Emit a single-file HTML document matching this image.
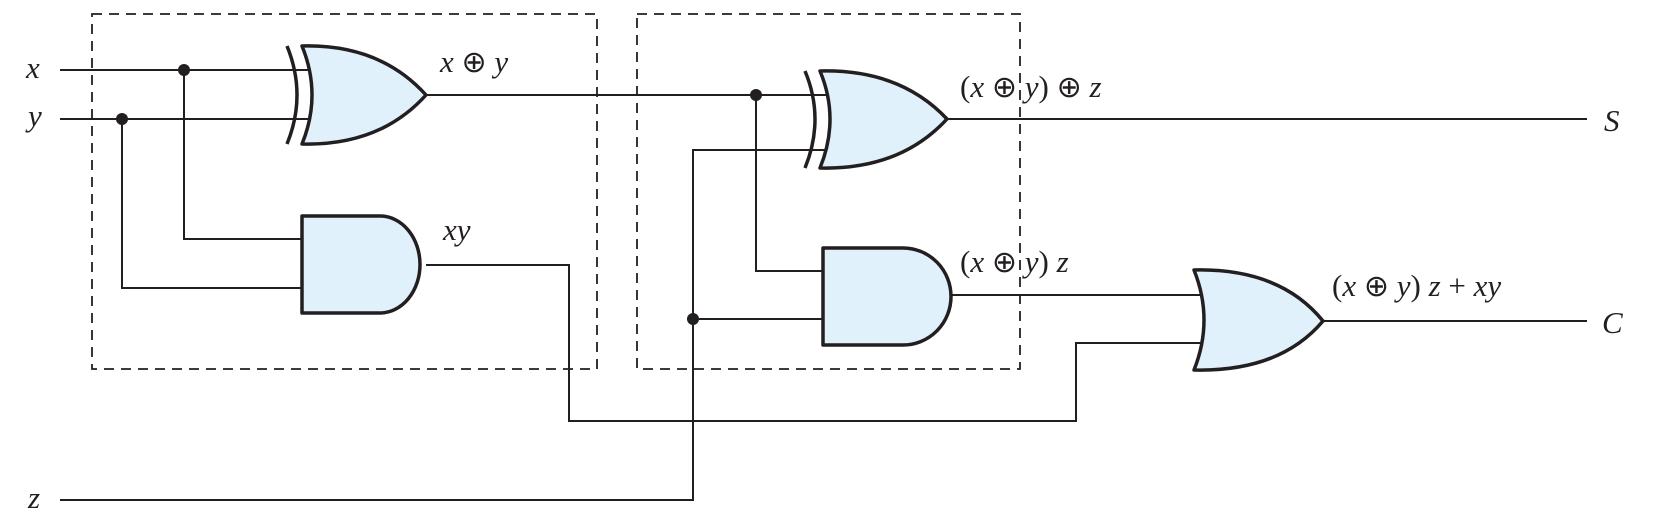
<!DOCTYPE html>
<html><head><meta charset="utf-8"><style>
html,body{margin:0;padding:0;background:#fff;}
svg{display:block;}
text{font-family:"Liberation Serif",serif;font-style:italic;font-size:31px;fill:#231f20;}
tspan.o{font-style:normal;font-family:"DejaVu Sans",sans-serif;font-size:30px;}
tspan.n{font-style:normal;}
.w{stroke:#231f20;stroke-width:2;fill:none;}
.g{stroke:#231f20;stroke-width:3.5;fill:#e0f1fb;stroke-linejoin:round;}
.d{stroke:#231f20;stroke-width:1.8;fill:none;stroke-dasharray:10,7;}
</style></head><body>
<svg width="1654" height="520" viewBox="0 0 1654 520">
<rect class="d" x="92" y="14" width="505" height="355"/>
<rect class="d" x="637" y="14" width="383" height="355"/>
<g>
<path class="w" d="M60,70H312 M60,119H312"/>
<path class="w" d="M184,70V239H302 M122,119V288H302"/>
<path class="w" d="M426,95H830"/>
<path class="w" d="M756,95V271H823"/>
<path class="w" d="M60,500H693V150H830 M693,319H823"/>
<path class="w" d="M426,265H569V421H1076V343H1203"/>
<path class="w" d="M951,295H1203"/>
<path class="w" d="M947,119H1587 M1323,321H1587"/>
</g>
<circle cx="184" cy="70" r="6" fill="#231f20"/>
<circle cx="122" cy="119" r="6" fill="#231f20"/>
<circle cx="756" cy="95" r="6" fill="#231f20"/>
<circle cx="693" cy="319" r="6" fill="#231f20"/>
<g>
<path class="g" d="M302,46 Q380,44 426,95 Q380,146 302,144 Q322,95 302,46Z"/>
<path class="w" style="stroke-width:3.5" d="M287,46 Q307,95 287,144"/>
</g>
<path class="g" d="M302,216H380 A40,48.5 0 0 1 380,313H302Z"/>
<g>
<path class="g" d="M820,71 Q900,69 947,119 Q900,170 820,168 Q840,119 820,71Z"/>
<path class="w" style="stroke-width:3.5" d="M805,71 Q825,119 805,168"/>
</g>
<path class="g" d="M823,248H903 A48,48.5 0 0 1 903,345H823Z"/>
<path class="g" d="M1194,270 Q1280,268 1323,321 Q1280,372 1194,370 Q1214,320 1194,270Z"/>
<text x="26" y="78">x</text>
<text x="28" y="126">y</text>
<text x="28" y="508">z</text>
<text x="1604" y="131">S</text>
<text x="1602" y="333">C</text>
<text x="440" y="72">x <tspan class="o">⊕</tspan> y</text>
<text x="443" y="240">xy</text>
<text x="960" y="97"><tspan class="n">(</tspan>x <tspan class="o">⊕</tspan> y<tspan class="n">)</tspan> <tspan class="o">⊕</tspan> z</text>
<text x="960" y="272"><tspan class="n">(</tspan>x <tspan class="o">⊕</tspan> y<tspan class="n">)</tspan> z</text>
<text x="1332" y="296"><tspan class="n">(</tspan>x <tspan class="o">⊕</tspan> y<tspan class="n">)</tspan> z <tspan class="n">+</tspan> xy</text>
</svg>
</body></html>
